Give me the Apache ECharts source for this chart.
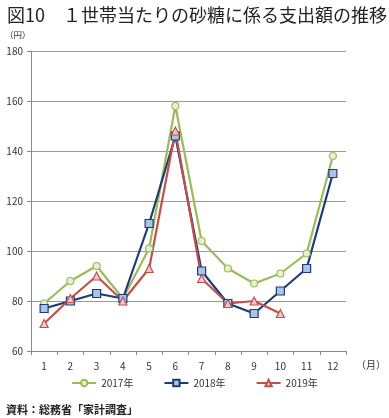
<!DOCTYPE html>
<html><head><meta charset="utf-8">
<script src="https://cdn.jsdelivr.net/npm/echarts@6/dist/echarts.min.js"></script>
<style>html,body{margin:0;padding:0;background:#fff}#c{width:389px;height:418px}</style>
</head><body><div id="c"></div>
<script>
const months = ['1','2','3','4','5','6','7','8','9','10','11','12'];
const s2017 = [79, 88, 94, 81, 101, 158, 104, 93, 87, 91, 99, 138];
const s2018 = [77, 80, 83, 81, 111, 146, 92, 79, 75, 84, 93, 131];
const s2019 = [71, 81, 90, 80, 93, 148, 89, 79, 80, 75];
const seriesNames = ['2017年','2018年','2019年'];
const yTicks = {min: 60, max: 180, interval: 20};

const font = '"Noto Sans CJK JP", sans-serif';
const chart = echarts.init(document.getElementById('c'), null, {renderer:'canvas'});
function mk(name, data, color, fill, symbol, size){
  return {name, type:'line', data, symbol, symbolSize:size,
    lineStyle:{color, width:2.2}, itemStyle:{color:fill, borderColor:color, borderWidth:1.2},
    emphasis:{disabled:true}};
}
chart.setOption({
  animation:false,
  textStyle:{fontFamily:font},
  title:[
    {text:'図10　１世帯当たりの砂糖に係る支出額の推移', left:2, top:1,
     textStyle:{fontSize:18, fontWeight:'normal', color:'#222', fontFamily:font}},
    {text:'（円）', left:0, top:26, textStyle:{fontSize:8.5, fontWeight:'normal', color:'#333', fontFamily:font}},
    {text:'資料：総務省「家計調査」', left:1, top:399, textStyle:{fontSize:11, fontWeight:'bold', color:'#222', fontFamily:font}}
  ],
  legend:{top:373, left:'center', itemGap:30, itemWidth:24, itemHeight:8,
    textStyle:{fontSize:10, color:'#333', fontFamily:font},
    data:seriesNames},
  grid:{left:31, right:17, top:51, bottom:67},
  xAxis:{type:'category', data:months, boundaryGap:true,
    name:'（月）', nameLocation:'end', nameGap:0,
    nameTextStyle:{fontSize:10, color:'#333', verticalAlign:'top', padding:[9,0,0,10]},
    axisLine:{lineStyle:{color:'#888', width:1}},
    axisTick:{show:true, length:4, lineStyle:{color:'#888'}},
    axisLabel:{fontSize:10, color:'#333', margin:10}},
  yAxis:{type:'value', min:yTicks.min, max:yTicks.max, interval:yTicks.interval,
    axisLine:{show:true, lineStyle:{color:'#888'}},
    axisTick:{show:true, length:4, inside:false, lineStyle:{color:'#888'}},
    axisLabel:{fontSize:10, color:'#333', margin:8},
    splitLine:{lineStyle:{color:'#999', width:1}}},
  series:[
    mk(seriesNames[0], s2017, '#9BBB59', '#E6F0D2', 'circle', 7),
    mk(seriesNames[1], s2018, '#1F3B73', '#A9C4E8', 'rect', 8),
    mk(seriesNames[2], s2019, '#C0504D', '#F2C9C8', 'triangle', 8)
  ]
});
</script></body></html>
